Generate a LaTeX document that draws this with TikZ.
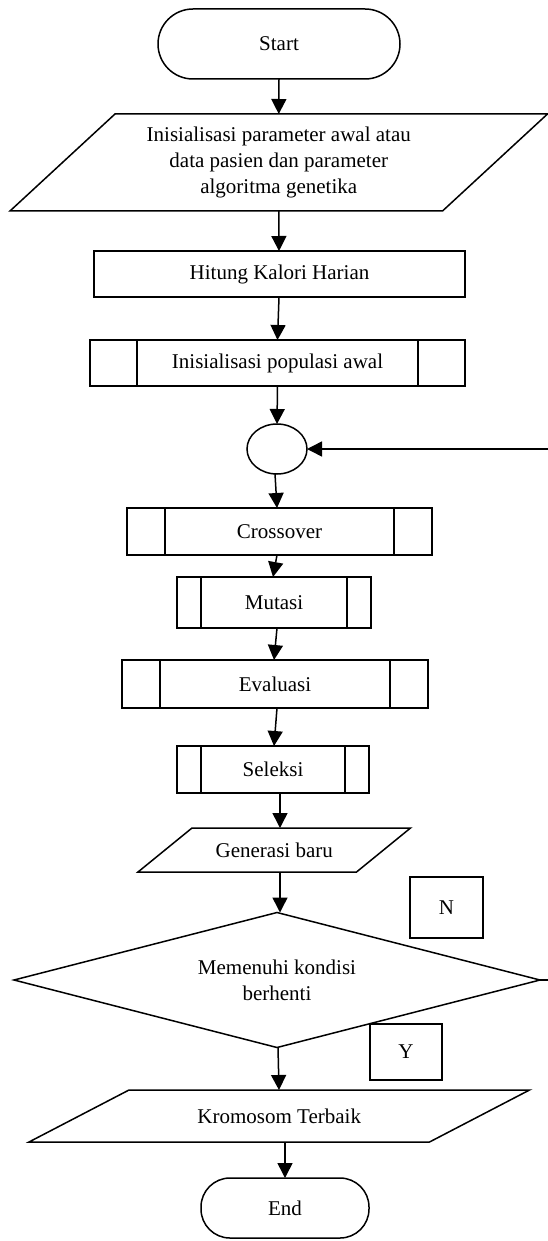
\documentclass[tikz,border=0pt]{standalone}
\usepackage{fontspec}
\setmainfont{Liberation Serif}
\usetikzlibrary{shapes.geometric,arrows.meta}
\newcommand\drawio[2]{\draw[shapeline] ([xshift=#2]#1.north west) -- ([xshift=#2]#1.north east) -- ([xshift=-#2]#1.south east) -- ([xshift=-#2]#1.south west) -- cycle;}
\newcommand\drawsub[2]{\draw[shapeline] ([xshift=#2]#1.north west) -- ([xshift=#2]#1.south west); \draw[shapeline] ([xshift=-#2]#1.north east) -- ([xshift=-#2]#1.south east);}
\begin{document}
\begin{tikzpicture}[x=1pt,y=-1pt,
  shapeline/.style={line width=1.5pt, line join=miter},
  base/.style={inner sep=0pt, outer sep=0pt, font=\fontsize{21}{26}\selectfont, align=center},
  term/.style={base, draw, shapeline, rectangle, rounded corners=#1},
  procbox/.style={base, draw, shapeline, rectangle},
  iobox/.style={base, rectangle},
  joint/.style={base, draw, shapeline, ellipse},
  decision/.style={base, draw, shapeline, diamond, shape aspect=3.9},
  labelbox/.style={base, draw, shapeline, rectangle},
  arr/.style={line width=1.5pt, -{Triangle[length=15pt,width=15pt]}},
  line/.style={line width=1.5pt}]
\useasboundingbox (0,0) rectangle (548,1241);

\node[term=35pt, minimum width=242pt, minimum height=70pt] (start) at (279,44) {Start};
\node[iobox, minimum width=432.5pt, minimum height=97pt] (init) at (278.75,162.5)
  {Inisialisasi parameter awal atau\\data pasien dan parameter\\algoritma genetika};
\drawio{init}{52.5pt}
\node[procbox, minimum width=371pt, minimum height=46pt] (kal) at (279.5,274) {Hitung Kalori Harian};
\node[procbox, minimum width=375pt, minimum height=46pt] (pop) at (277.5,363) {Inisialisasi populasi awal};
\drawsub{pop}{47pt}
\node[joint, minimum width=60pt, minimum height=50pt] (jn) at (277,449) {};
\node[procbox, minimum width=305pt, minimum height=47pt] (cross) at (279.5,531.5) {Crossover};
\drawsub{cross}{38pt}
\node[procbox, minimum width=194pt, minimum height=51pt] (mut) at (274,602.5) {Mutasi};
\drawsub{mut}{24pt}
\node[procbox, minimum width=306pt, minimum height=48pt] (eval) at (275,684) {Evaluasi};
\drawsub{eval}{38pt}
\node[procbox, minimum width=192pt, minimum height=47pt] (sel) at (273,769.5) {Seleksi};
\drawsub{sel}{24pt}
\node[iobox, minimum width=218.5pt, minimum height=44pt] (gen) at (274.25,850) {Generasi baru};
\drawio{gen}{27pt}
\node[decision, minimum width=526pt, minimum height=135pt] (dec) at (277,980) {Memenuhi kondisi\\berhenti};
\node[labelbox, minimum width=73pt, minimum height=61pt] (nlab) at (446.5,907.5) {N};
\node[labelbox, minimum width=72pt, minimum height=56pt] (ylab) at (406,1052) {Y};
\node[iobox, minimum width=400.5pt, minimum height=52pt] (best) at (279.25,1116) {Kromosom Terbaik};
\drawio{best}{50pt}
\node[term=29pt, minimum width=168pt, minimum height=60pt] (end) at (285,1208) {End};

\coordinate (fbA) at (549,980);
\coordinate (fbB) at (549,449);

\draw[arr] (start.south) -- (init.north);
\draw[arr] (init.south) -- ([xshift=-0.5pt]kal.north);
\draw[arr] ([xshift=-0.5pt]kal.south) -- (pop.north);
\draw[arr] (pop.south) -- (jn.north);
\draw[arr] ([xshift=-2pt]jn.south) -- ([xshift=-2.5pt]cross.north);
\draw[arr] ([xshift=-2.5pt]cross.south) -- ([xshift=-1pt]mut.north);
\draw[arr] ([xshift=3pt]mut.south) -- ([xshift=-1pt]eval.north);
\draw[arr] ([xshift=2pt]eval.south) -- ([xshift=1pt]sel.north);
\draw[arr] ([xshift=7pt]sel.south) -- ([xshift=5.75pt]gen.north);
\draw[arr] ([xshift=5.75pt]gen.south) -- ([xshift=3pt]dec.north);
\draw[arr] ([xshift=1pt]dec.south) -- ([xshift=-0.25pt]best.north);
\draw[arr] ([xshift=5.75pt]best.south) -- (end.north);
\draw[line] (dec.east) -- (fbA);
\draw[arr] (fbB) -- (jn.east);
\end{tikzpicture}
\end{document}
